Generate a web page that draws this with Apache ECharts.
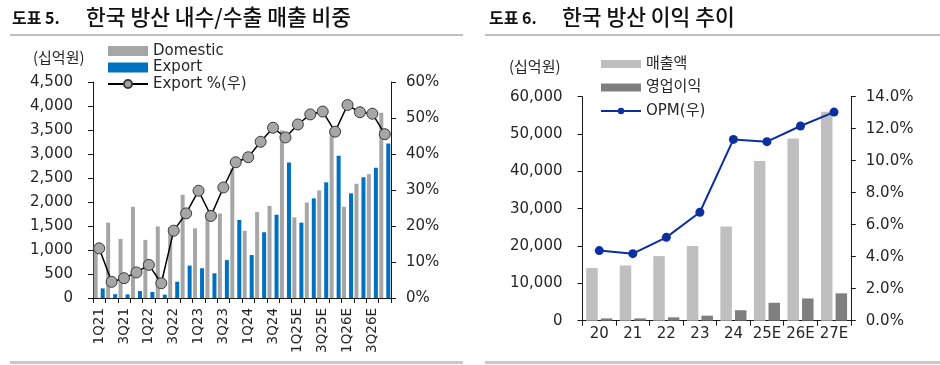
<!DOCTYPE html>
<html><head><meta charset="utf-8">
<script src="https://cdn.jsdelivr.net/npm/echarts@6/dist/echarts.min.js"></script>
<style>html,body{margin:0;padding:0;background:#fff}#c{width:940px;height:365px}</style>
</head><body><div id="c"></div>
<script>
// ---- Left chart data (도표 5) ----
const quarters = ['1Q21','2Q21','3Q21','4Q21','1Q22','2Q22','3Q22','4Q22','1Q23','2Q23','3Q23','4Q23','1Q24','2Q24','3Q24','4Q24','1Q25E','2Q25E','3Q25E','4Q25E','1Q26E','2Q26E','3Q26E','4Q26E'];
const domestic = [1100,1570,1230,1900,1210,1490,1480,2150,1450,1720,1760,2700,1400,1790,1920,3490,1680,1990,2240,3460,1900,2380,2580,3860];
const exportVals = [200,80,75,145,125,70,340,675,620,515,790,1625,895,1370,1735,2825,1570,2075,2410,2965,2180,2515,2715,3220];
const exportPct = [13.8,4.5,5.5,7.1,9.2,4.1,18.7,23.5,29.8,22.8,30.7,37.7,39.1,43.4,47.3,44.6,48.2,51.0,51.8,46.2,53.6,51.6,51.2,45.5];
const leftNames = ['Domestic','Export','Export %(우)'];

// ---- Right chart data (도표 6) ----
const years = ['20','21','22','23','24','25E','26E','27E'];
const revenue = [14100,14800,17300,20000,25200,42800,48800,56000];
const opProfit = [620,620,900,1350,2800,4800,5950,7330];
const opm = [4.38,4.19,5.21,6.78,11.33,11.19,12.17,13.04];
const rightNames = ['매출액','영업이익','OPM(우)'];

const FONT = "'DejaVu Sans','Noto Sans CJK KR',sans-serif";
const KFONT = "'Noto Sans CJK KR',sans-serif";
const TXT = '#262626';
const AX = '#1a1a1a';

const chart = echarts.init(document.getElementById('c'), null, {renderer:'canvas'});

function yAxisBase(o) {
  return Object.assign({
    type:'value', splitLine:{show:false},
    axisLine:{show:true, lineStyle:{color:AX, width:1}},
    axisTick:{show:true, inside:false, length:5, lineStyle:{color:AX}},
    axisLabel:{color:TXT, fontFamily:FONT, fontSize:15}
  }, o);
}

chart.setOption({
  animation:false,
  backgroundColor:'#fff',
  grid:[
    {left:93, top:82, width:298, height:216},
    {left:582.5, top:96.7, width:268.3, height:224}
  ],
  legend:[
    {orient:'vertical', left:102, top:38.5, itemWidth:40, itemHeight:10, itemGap:1.5,
     data:[{name:leftNames[0], icon:'rect'},{name:leftNames[1], icon:'rect'},{name:leftNames[2]}],
     textStyle:{color:TXT, fontFamily:FONT, fontSize:15, lineHeight:15}},
    {orient:'vertical', left:595, top:51.5, itemWidth:40, itemHeight:8, itemGap:8.5,
     data:[{name:rightNames[0], icon:'rect'},{name:rightNames[1], icon:'rect'},{name:rightNames[2]}],
     textStyle:{color:TXT, fontFamily:FONT, fontSize:15, lineHeight:15}}
  ],
  xAxis:[
    {type:'category', gridIndex:0, data:quarters, boundaryGap:true,
     axisLine:{lineStyle:{color:AX}},
     axisTick:{show:true, interval:0, length:5, lineStyle:{color:AX}},
     axisLabel:{interval:1, rotate:90, margin:10, color:TXT, fontFamily:FONT, fontSize:13.5}},
    {type:'category', gridIndex:1, data:years, boundaryGap:true,
     axisLine:{lineStyle:{color:AX}},
     axisTick:{show:true, interval:0, length:5, lineStyle:{color:AX}},
     axisLabel:{interval:0, margin:6, color:TXT, fontFamily:FONT, fontSize:15}}
  ],
  yAxis:[
    yAxisBase({gridIndex:0, min:0, max:4500, interval:500,
      axisLabel:{color:TXT, fontFamily:FONT, fontSize:15, margin:20,
        formatter:v=>v.toLocaleString('en-US')}}),
    yAxisBase({gridIndex:0, position:'right', min:0, max:60, interval:10,
      axisLabel:{color:TXT, fontFamily:FONT, fontSize:15, margin:15, formatter:v=>v+'%'}}),
    yAxisBase({gridIndex:1, min:0, max:60000, interval:10000,
      axisLabel:{color:TXT, fontFamily:FONT, fontSize:15, margin:20,
        formatter:v=>v.toLocaleString('en-US')}}),
    yAxisBase({gridIndex:1, position:'right', min:0, max:14, interval:2,
      axisLabel:{color:TXT, fontFamily:FONT, fontSize:15, margin:15, formatter:v=>v.toFixed(1)+'%'}})
  ],
  series:[
    {name:leftNames[0], type:'bar', xAxisIndex:0, yAxisIndex:0, data:domestic,
     barWidth:4, barGap:'75%', itemStyle:{color:'#a6a6a6'}},
    {name:leftNames[1], type:'bar', xAxisIndex:0, yAxisIndex:0, data:exportVals,
     barWidth:4, barGap:'75%', itemStyle:{color:'#0070c0'}},
    {name:leftNames[2], type:'line', xAxisIndex:0, yAxisIndex:1, data:exportPct, z:5,
     symbol:'circle', symbolSize:11, showAllSymbol:true,
     lineStyle:{color:'#000', width:1.5},
     itemStyle:{color:'#a6a6a6', borderColor:'#3a3a3a', borderWidth:1}},
    {name:rightNames[0], type:'bar', xAxisIndex:1, yAxisIndex:2, data:revenue,
     barWidth:11.5, barGap:'27%', itemStyle:{color:'#bfbfbf'}},
    {name:rightNames[1], type:'bar', xAxisIndex:1, yAxisIndex:2, data:opProfit,
     barWidth:11.5, barGap:'27%', itemStyle:{color:'#7f7f7f'}},
    {name:rightNames[2], type:'line', xAxisIndex:1, yAxisIndex:3, data:opm, z:5,
     symbol:'circle', symbolSize:9, showAllSymbol:true,
     lineStyle:{color:'#0b2f9f', width:2},
     itemStyle:{color:'#0b2f9f'}}
  ],
  graphic:[
    {type:'text', left:12, top:10, style:{text:'도표 5.', font:"bold 16px "+KFONT, fill:'#111'}},
    {type:'text', left:86, top:6, style:{text:'한국 방산 내수/수출 매출 비중', font:"500 21.5px "+KFONT, fill:'#111'}},
    {type:'line', shape:{x1:10,y1:35,x2:463,y2:35}, style:{stroke:'#bfbfbf', lineWidth:2}},
    {type:'line', shape:{x1:10,y1:362.5,x2:463,y2:362.5}, style:{stroke:'#c8c8c8', lineWidth:3}},
    {type:'text', left:33, top:50, style:{text:'(십억원)', font:"15px "+KFONT, fill:TXT}},

    {type:'text', left:489, top:10, style:{text:'도표 6.', font:"bold 16px "+KFONT, fill:'#111'}},
    {type:'text', left:562, top:6, style:{text:'한국 방산 이익 추이', font:"500 21.5px "+KFONT, fill:'#111'}},
    {type:'line', shape:{x1:485,y1:35,x2:940,y2:35}, style:{stroke:'#bfbfbf', lineWidth:2}},
    {type:'line', shape:{x1:485,y1:362.5,x2:940,y2:362.5}, style:{stroke:'#c8c8c8', lineWidth:3}},
    {type:'text', left:509, top:59, style:{text:'(십억원)', font:"15px "+KFONT, fill:TXT}}
  ]
});
</script></body></html>
